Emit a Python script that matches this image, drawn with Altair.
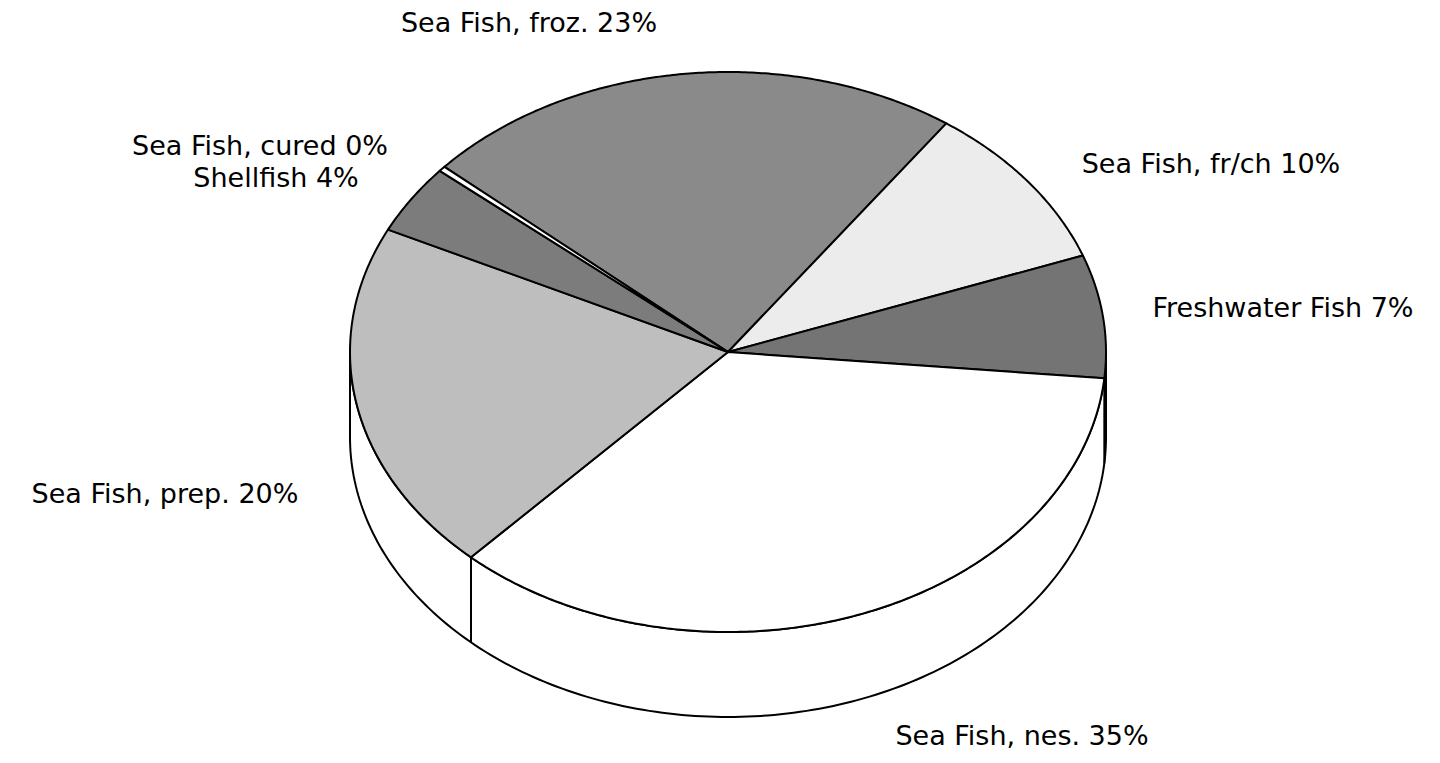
import math
import altair as alt
import pandas as pd

# ---------------- data ----------------
categories = ["Sea Fish, froz.", "Sea Fish, fr/ch", "Freshwater Fish",
              "Sea Fish, nes.", "Sea Fish, prep.", "Shellfish", "Sea Fish, cured"]
shares = [23.3, 9.6, 7.1, 35.4, 20.3, 4.0, 0.3]

# ---------------- styles ----------------
fills = ["#8a8a8a", "#ececec", "#747474", "#ffffff", "#bebebe", "#7c7c7c", "#ffffff"]

# ---------------- layout (pixels) ----------------
W, H = 1424, 746
CX, CY, RX, RY, DEPTH = 728, 352, 378, 280, 85
START_DEG = 138.6          # where the first slice starts, slices run clockwise
label_center_x = [529, 1211, 1283, 1022, 165, 276, 260]
label_baseline_y = [32, 173, 317, 745, 503, 187, 155]


def pt(deg, drop=0.0):
    r = math.radians(deg)
    return CX + RX * math.cos(r), CY - RY * math.sin(r) + drop


# top faces of slices
rows = []
bounds = []
a = START_DEG
for cat, s in zip(categories, shares):
    a0, a1 = a, a - s * 3.6
    bounds.append(a1)
    n = max(2, int(abs(a1 - a0) / 0.5) + 1)
    pts = [(CX, CY)] + [pt(a0 + (a1 - a0) * j / (n - 1)) for j in range(n)] + [(CX, CY)]
    for i, (x, y) in enumerate(pts):
        rows.append({"slice": cat, "i": i, "x": x, "y": y})
    a = a1
slices_df = pd.DataFrame(rows)

# side wall (front half of the cylinder)
ts = [180 + j for j in range(181)]
side_pts = [pt(t) for t in ts] + [pt(t, DEPTH) for t in reversed(ts)] + [pt(180)]
side_df = pd.DataFrame([{"i": i, "x": x, "y": y} for i, (x, y) in enumerate(side_pts)])

# vertical edges where slice borders meet the visible side wall
edges = []
for b in bounds:
    if math.sin(math.radians(b)) < -0.01:
        x, y = pt(b)
        edges.append({"x": x, "y": y, "y2": y + DEPTH})
edge_df = pd.DataFrame(edges)

# labels
lab_df = pd.DataFrame({
    "label": [f"{c} {int(s + 0.5)}%" for c, s in zip(categories, shares)],
    "x": label_center_x,
    "y": label_baseline_y,
})

xs = alt.Scale(domain=[8, 8 + W], nice=False, zero=False)
ys = alt.Scale(domain=[8, 8 + H], reverse=True, nice=False, zero=False)
X = alt.X("x:Q", scale=xs, axis=None)
Y = alt.Y("y:Q", scale=ys, axis=None)

side_layer = alt.Chart(side_df).mark_line(
    fill="white", stroke="black", strokeWidth=2, strokeJoin="round"
).encode(X, Y, order="i:Q")

top_layer = alt.Chart(slices_df).mark_line(
    stroke="black", strokeWidth=2, strokeJoin="round"
).encode(
    X, Y,
    detail="slice:N",
    order="i:Q",
    fill=alt.Fill("slice:N", scale=alt.Scale(domain=categories, range=fills), legend=None),
)

edge_layer = alt.Chart(edge_df).mark_rule(color="black", strokeWidth=2).encode(
    X, Y, y2="y2:Q"
)

text_layer = alt.Chart(lab_df).mark_text(
    font="DejaVu Sans", fontSize=27, align="center", baseline="alphabetic", color="black"
).encode(X, Y, text="label:N")

chart = alt.layer(side_layer, top_layer, edge_layer, text_layer).properties(
    width=W, height=H, padding=0, autosize=alt.AutoSizeParams(type="none")
).configure_view(strokeWidth=0)

chart.save("out.html", embed_options={"renderer": "svg", "actions": False})
